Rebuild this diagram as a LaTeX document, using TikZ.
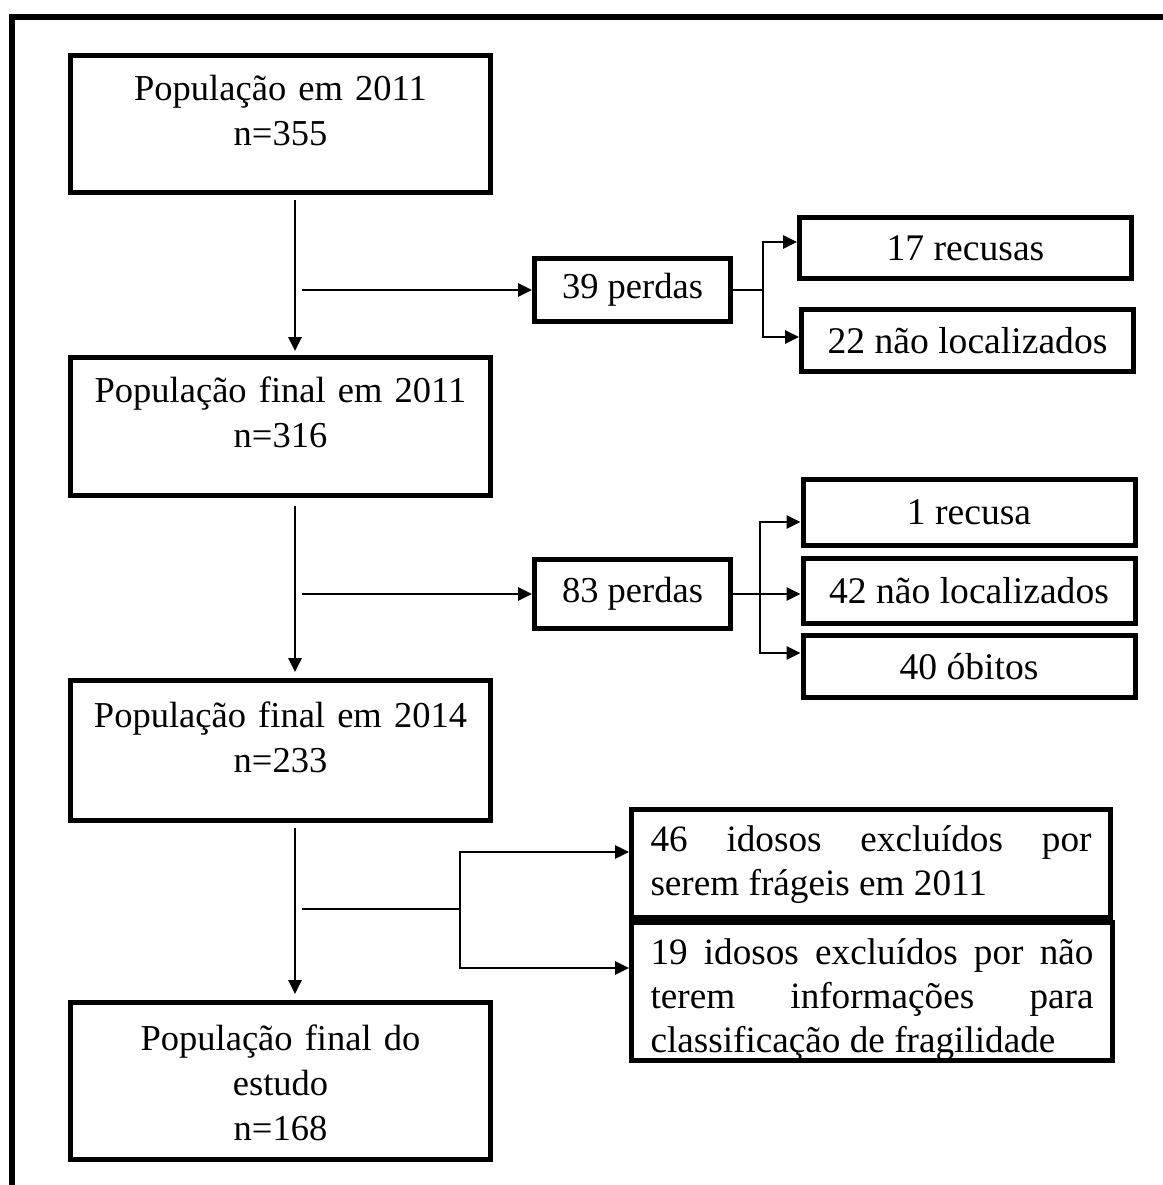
\documentclass[tikz,border=0pt]{standalone}
\usepackage{fontspec}
\setmainfont{Liberation Serif}
\usetikzlibrary{arrows.meta}
\tikzset{
    box/.style={draw, line width=2.5pt, inner sep=0pt, font=\fontsize{18.25pt}{22.5pt}\selectfont},
    popbox/.style={box, text width=210pt, align=center, text height=22.3pt, text depth=#1},
    lossbox/.style={box, minimum width=98pt, minimum height=#1},
    causebox/.style={box, minimum width=166pt, minimum height=#1, font=\fontsize{18.8pt}{22.5pt}\selectfont},
    notebox/.style={box, inner xsep=9.5pt, text width=220.5pt, align=justify, text height=21pt, text depth=#1, font=\fontsize{18.6pt}{22pt}\selectfont},
    flow/.style={line width=1.35pt, -{Triangle[length=7pt,width=6.5pt]}},
    link/.style={line width=1.35pt}
}
\begin{document}
\begin{tikzpicture}[x=0.5pt, y=-0.5pt]
          \useasboundingbox (0,0) rectangle (1163,1185);
          \draw [line width=2.75pt] (1175,17) -- (12,17) -- (12,1200);
          \node [popbox=46.2pt] (b1) at (280.5,124) {População em 2011\\n=355};
          \node [popbox=46.7pt] (b2) at (280.5,426.5) {População final em 2011\\n=316};
          \node [popbox=46.7pt, text height=23.3pt] (b3) at (280.5,750.5) {População final em 2014\\n=233};
          \node [popbox=54.5pt, text height=24pt] (b4) at (280.5,1081) {População final do\\estudo\\n=168};
          \node [lossbox=31.5pt] (p39) at (632.5,290) {39 perdas};
          \node [lossbox=34.5pt] (p83) at (632.5,594) {83 perdas};
          \node [causebox=30.5pt] (r17) at (965.5,248) {17 recusas};
          \node [causebox=31pt] (nl22) at (967.5,340.5) {22 não localizados};
          \node [causebox=33pt] (r1) at (969,512.5) {1 recusa};
          \node [causebox=32.5pt] (nl42) at (969,591) {42 não localizados};
          \node [causebox=31pt] (ob40) at (969,666.5) {40 óbitos};
          \node [notebox=33pt] (ex46) at (871,863.5) {46 idosos excluídos por\linebreak serem frágeis em 2011};
          \node [notebox=48pt, text width=221.5pt] (ex19) at (872,991.5) {19 idosos excluídos por não\linebreak terem informações para\linebreak classificação de fragilidade};
          \draw [flow, shorten <=2.5pt, shorten >=2pt] ([xshift=7.25pt]b1.south) -- ([xshift=7.25pt]b2.north);
          \draw [flow, shorten <=4pt, shorten >=3pt] ([xshift=7.25pt]b2.south) -- ([xshift=7.25pt]b3.north);
          \draw [flow, shorten <=2.5pt, shorten >=3pt] ([xshift=7.25pt]b3.south) -- ([xshift=7.25pt]b4.north);
          \coordinate (s1) at (302,290);
          \coordinate (s2) at (302,594);
          \coordinate (s3) at (302,909);
          \coordinate (j1) at (763,290);
          \coordinate (j2) at (760,594);
          \coordinate (j3) at (460,909);
          \draw [flow] (s1) -- (p39.west);
          \draw [link] (p39.east) -- (j1);
          \draw [flow] (j1) |- ([yshift=3pt]r17.west);
          \draw [flow] (j1) |- ([yshift=1.75pt]nl22.west);
          \draw [flow] (s2) -- (p83.west);
          \draw [flow] (p83.east) -- (p83.east -| nl42.west);
          \draw [flow] (j2) |- ([yshift=-4.75pt]r1.west);
          \draw [flow] (j2) |- ([yshift=6.75pt]ob40.west);
          \draw [link] (s3) -- (j3);
          \draw [flow] (j3) |- ([yshift=5.75pt]ex46.west);
          \draw [flow] (j3) |- ([yshift=11.75pt]ex19.west);
\end{tikzpicture}
\end{document}
